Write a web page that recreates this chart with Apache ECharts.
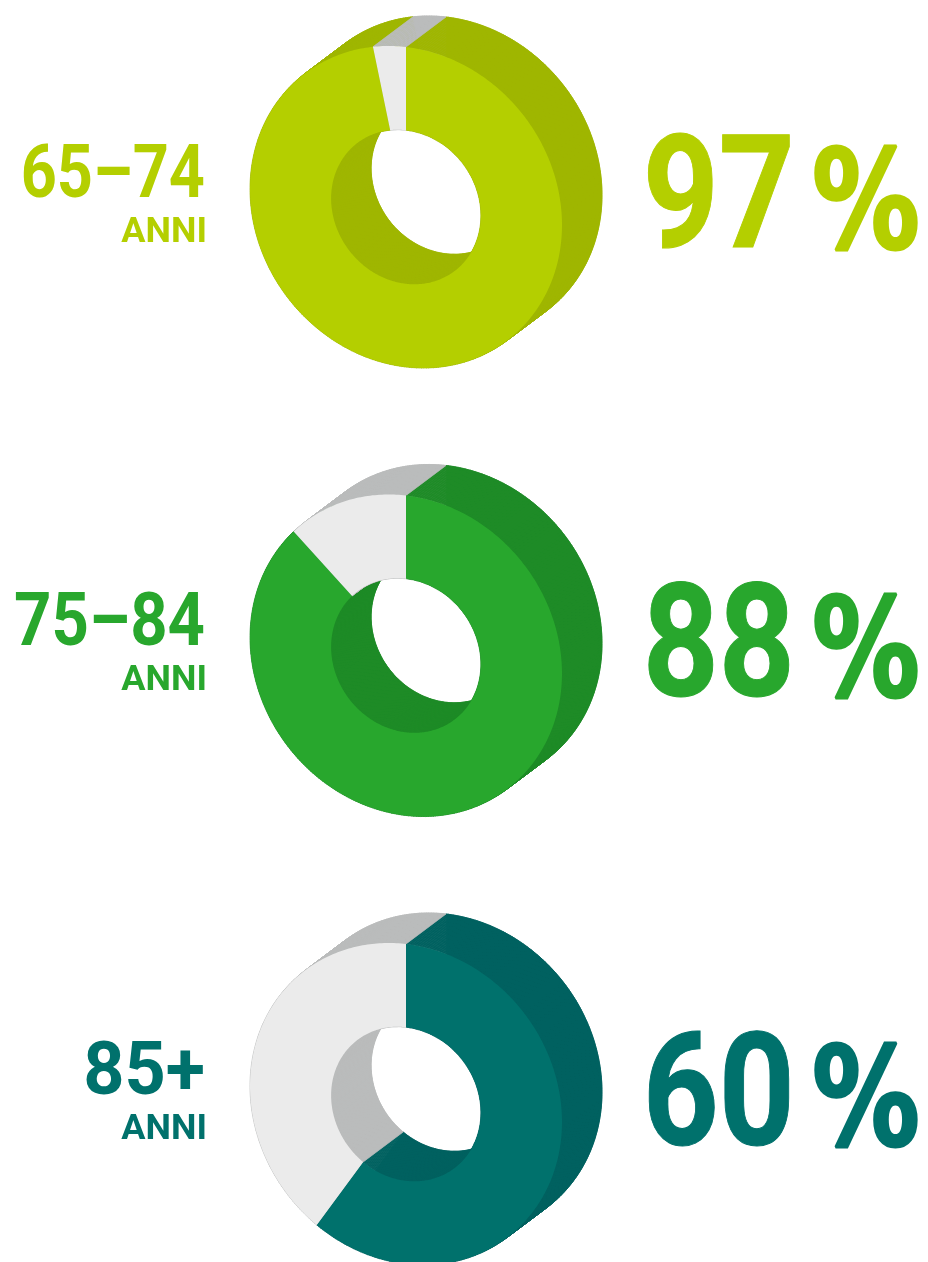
<!DOCTYPE html>
<html lang="it">
<head>
    <meta charset="UTF-8">
    <title>Percentuale per fascia di eta</title>
    <script src="https://cdn.jsdelivr.net/npm/echarts@6/dist/echarts.min.js"></script>
    <style>
        html, body { margin: 0; padding: 0; background: #fff; }
    </style>
</head>
<body>
<div id="main" style="width: 928px;height:1262px;"></div>
<script type="text/javascript">
    // dati
    var ageLabels = ['65–74', '75–84', '85+'];
    var percentLabels = ['97', '88', '60'];
    var drawnShares = [96.6, 87.2, 59.7];   // quota disegnata della fetta colorata
    var unitLabel = 'ANNI';

    // colori
    var faceColors = ['#b4cf00', '#28a72d', '#00716c'];
    var sideColors = ['#9fb600', '#1e8b27', '#006160'];
    var restFace = '#ebebeb';
    var restSide = '#babcbc';

    // geometria della ciambella inclinata
    var centerX = 406;
    var centerY = [207, 655.5, 1104];
    var radiusX = 156, radiusY = 160, shear = 18;
    var holeRatio = 0.48;
    var depthX = 40, depthY = -30;
    var ageStretch = [0.84, 0.87, 0.96];

    var slices = [];
    for (var i = 0; i < drawnShares.length; i++) {
        slices.push([i, 0, drawnShares[i], 1]);
        slices.push([i, drawnShares[i], 100, 0]);
    }

    function arc(api, row, from, to, ratio, dx, dy) {
        var pts = [];
        var steps = Math.max(2, Math.ceil(Math.abs(to - from) * 4));
        for (var s = 0; s <= steps; s++) {
            var a = (from + (to - from) * s / steps) / 100 * Math.PI * 2;
            var sin = Math.sin(a), cos = Math.cos(a);
            pts.push(api.coord([
                centerX + dx + radiusX * ratio * sin,
                centerY[row] + dy + (shear * sin - radiusY * cos) * ratio
            ]));
        }
        return pts;
    }

    function polygon(points, color, line) {
        return {
            type: 'polygon',
            shape: { points: points },
            style: { fill: color, stroke: line ? color : null, lineWidth: line ? 0.7 : 0 }
        };
    }

    // fianco estruso: tanti quadrilateri tra l'arco davanti e quello dietro
    function side(api, row, from, to, ratio, color) {
        var a = arc(api, row, from, to, ratio, 0, 0);
        var b = arc(api, row, from, to, ratio, depthX, depthY);
        var quads = [];
        for (var q = 0; q < a.length - 1; q++) {
            quads.push(polygon([a[q], a[q + 1], b[q + 1], b[q]], color, true));
        }
        return { type: 'group', children: quads };
    }

    // ogni strato disegna le fette dai valori, dal retro verso il fronte
    var layers = {
        back: function (api, row, from, to, color) {
            return polygon(arc(api, row, from, to, 1, depthX, depthY)
                .concat(arc(api, row, to, from, holeRatio, depthX, depthY)), color, true);
        },
        outerSide: function (api, row, from, to, color) {
            return side(api, row, from, to, 1, color);
        },
        innerSide: function (api, row, from, to, color) {
            return side(api, row, from, to, holeRatio, color);
        },
        front: function (api, row, from, to, color) {
            return polygon(arc(api, row, from, to, 1, 0, 0)
                .concat(arc(api, row, to, from, holeRatio, 0, 0)), color, false);
        }
    };

    function layerSeries(name, z) {
        return {
            type: 'custom',
            name: name,
            z: z,
            silent: true,
            clip: false,
            data: slices,
            renderItem: function (params, api) {
                var row = api.value(0), on = api.value(3);
                var color;
                if (name === 'front') {
                    color = on ? faceColors[row] : restFace;
                } else {
                    color = on ? sideColors[row] : restSide;
                }
                return layers[name](api, row, api.value(1), api.value(2), color);
            }
        };
    }

    function textItem(text, x, y, size, family, color, scaleX, align, thick) {
        return {
            type: 'text',
            x: x,
            y: y,
            scaleX: scaleX,
            scaleY: 1,
            silent: true,
            style: {
                text: text,
                x: 0,
                y: 0,
                fill: color,
                stroke: thick ? color : null,
                lineWidth: thick || 0,
                align: align,
                verticalAlign: 'middle',
                font: 'bold ' + size + 'px ' + family
            }
        };
    }

    var labels = [];
    for (var k = 0; k < ageLabels.length; k++) {
        var mid = centerY[k];
        var c = faceColors[k];
        labels.push(textItem(ageLabels[k], 205, mid - 29, 75, 'Roboto', c, ageStretch[k], 'right', 0));
        labels.push(textItem(unitLabel, 207, mid + 26, 35, 'Roboto', c, 1.03, 'right', 0));
        labels.push(textItem(percentLabels[k], 795, mid, 158, 'Roboto', c, 0.84, 'right', 1));
        labels.push(textItem('%', 866, mid + 5, 138, '"DejaVu Sans"', c, 0.78, 'center', 3));
    }

    var myChart = echarts.init(document.getElementById('main'));
    myChart.setOption({
        animation: false,
        grid: { left: 0, right: 0, top: 0, bottom: 0 },
        xAxis: { type: 'value', min: 0, max: 928, show: false },
        yAxis: { type: 'value', min: 0, max: 1262, inverse: true, show: false },
        graphic: labels,
        series: [
            layerSeries('back', 1),
            layerSeries('outerSide', 2),
            layerSeries('innerSide', 3),
            layerSeries('front', 4)
        ]
    });
</script>
</body>
</html>
